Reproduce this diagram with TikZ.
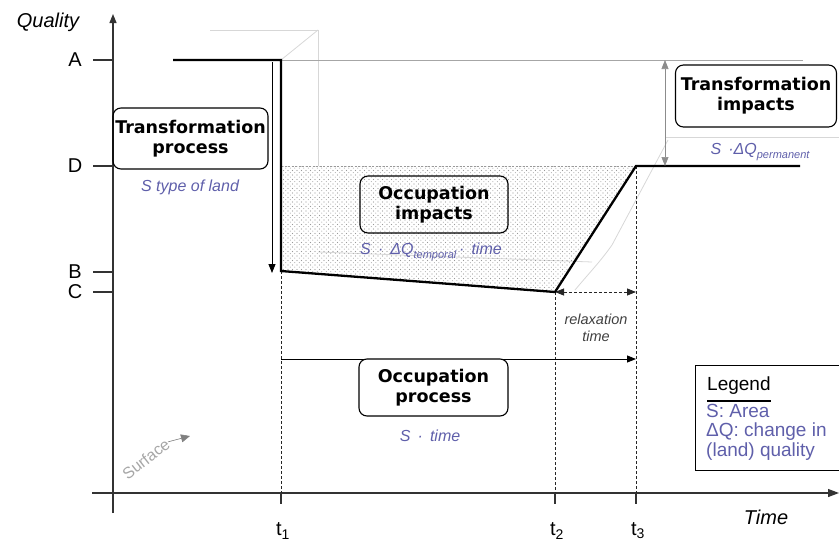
\documentclass[tikz,border=0pt]{standalone}
\usepackage{fontspec}
\setmainfont{Liberation Sans}
\newfontfamily\boxfont{DejaVu Sans}
\usetikzlibrary{arrows.meta,patterns}
\definecolor{labblue}{RGB}{95,95,170}
\definecolor{faint}{RGB}{215,215,215}
\pgfdeclarepatternformonly{bigdots}{\pgfqpoint{-1pt}{-1pt}}{\pgfqpoint{4pt}{4pt}}{\pgfqpoint{4.5pt}{4.5pt}}{%
  \pgfpathcircle{\pgfqpoint{0pt}{0pt}}{0.6pt}\pgfusepath{fill}%
  \pgfpathcircle{\pgfqpoint{2.25pt}{2.25pt}}{0.5pt}\pgfusepath{fill}}
\begin{document}
\begin{tikzpicture}[x=1pt,y=-1pt,
  procbox/.style={draw,line width=1.1pt,rounded corners=8pt,
    font=\boxfont\bfseries\fontsize{17.5}{20}\selectfont,align=center,inner sep=0pt},
  bluelab/.style={text=labblue,font=\itshape\fontsize{16}{18}\selectfont,inner sep=0pt},
  axlab/.style={font=\fontsize{20}{22}\selectfont,inner sep=0pt},
  axis/.style={line width=1.2pt,draw=black!80},
  tickline/.style={line width=1.1pt,draw=black!80},
  curve/.style={line width=2.3pt,line join=miter},
  guide/.style={dash pattern=on 3pt off 2pt,line width=0.8pt,draw=black!85},
  faintline/.style={draw=faint,line width=0.8pt},
  tip/.style={-{Triangle[length=9pt,width=7pt]}},
  tips/.style={{Triangle[length=9pt,width=7pt]}-{Triangle[length=9pt,width=7pt]}}
]
\useasboundingbox (0,0) rectangle (839,544);

% key coordinates
\coordinate (a0) at (173,60);
\coordinate (A1) at (281,60);
\coordinate (B1) at (281,271);
\coordinate (C2) at (555,292);
\coordinate (D3) at (636,166);
\coordinate (Dend) at (800,166);
\coordinate (Aend) at (803,60);
\coordinate (Dtop) at (281,166);
\coordinate (t1ax) at (281,493);
\coordinate (t2ax) at (555,493);
\coordinate (t3ax) at (636,493);
\coordinate (t1tk) at (281,504);
\coordinate (t2tk) at (555,504);
\coordinate (t3tk) at (636,504);
\coordinate (C3) at (636,292);
\coordinate (op1) at (281,359);
\coordinate (op3) at (636,359);
\coordinate (yb) at (113,513);
\coordinate (yt) at (113,14);
\coordinate (xl) at (92,493);
\coordinate (xr) at (839,493);

% faint perspective lines
\draw[faintline] (210,30) -- (318,30);
\draw[faintline] (A1) -- (318,30);
\draw[faintline] (318,30) -- (318,166);
\draw[faintline] (318,252) -- (592,262);
\draw[faintline] (575,290) .. controls (590,272) and (600,262) .. (612,245) -- (668,140);
\draw[faintline] (665,137) -- (839,137);
\draw[draw=black!35,line width=0.6pt] (A1) -- (Aend);

% dotted area
\fill[pattern=bigdots,pattern color=black!40] (Dtop) -- (B1) -- (C2) -- (D3) -- cycle;
\draw[draw=black!40,dash pattern=on 2pt off 1.5pt,line width=0.6pt] (Dtop) -- (D3);

% axes
\draw[axis,tip] (yb) -- (yt);
\draw[axis,-{Triangle[length=11pt,width=8pt]}] (xl) -- (xr);
\node[axlab,font=\itshape\fontsize{20}{22}\selectfont] (q) at (48,22) {Quality};
\node[axlab] (time) at (766,517) {\itshape Time};

% y ticks
\foreach \n/\yy in {A/60,D/166,B/272,C/292}{
  \draw[tickline] (93,\yy) -- (113,\yy);
  \node[axlab] (lab\n) at (75,\yy) {\n};
}
% x ticks
\draw[tickline] (t1ax) -- (t1tk);
\draw[tickline] (t2ax) -- (t2tk);
\draw[tickline] (t3ax) -- (t3tk);
\node[axlab] (t1) at (283,531) {t\textsubscript{1}};
\node[axlab] (t2) at (557,531) {t\textsubscript{2}};
\node[axlab] (t3) at (638,531) {t\textsubscript{3}};

% guides
\draw[guide] (B1) -- (t1ax);
\draw[guide] (C2) -- (t2ax);
\draw[guide] (D3) -- (t3ax);
\draw[guide,tips] (C2) -- (C3);
\node[font=\itshape\fontsize{14.5}{17}\selectfont,text=black!75,align=center,inner sep=0pt] (relax) at (596,328) {relaxation\\time};

% main curve
\draw[curve] (a0) -- (A1) -- (B1) -- (C2) -- (D3) -- (Dend);

% transformation arrow
\coordinate (ta1) at (272,62);
\coordinate (ta2) at (272,273);
\draw[line width=0.8pt,tip] (ta1) -- (ta2);

% permanent impact double arrow
\coordinate (pa1) at (665,60);
\coordinate (pa2) at (665,166);
\draw[line width=0.6pt,draw=black!45,tips] (pa1) -- (pa2);

% occupation process arrow
\draw[line width=0.9pt,tip] (op1) -- (op3);

% boxes
\node[procbox,minimum width=155pt,minimum height=61pt] (tp) at (190.5,138.5) {Transformation\\process};
\node[bluelab] (tpl) at (190,187) {S type of land};

\node[procbox,minimum width=148pt,minimum height=57pt] (oi) at (434,204.5) {Occupation\\impacts};
\node[bluelab] (oil) at (431,252) {S \,·\, ΔQ\raisebox{-4pt}{\fontsize{11}{11}\selectfont temporal}\,·\, time};

\node[procbox,minimum width=161pt,minimum height=62pt] (ti) at (756,96) {Transformation\\impacts};
\node[bluelab] (til) at (760,152) {S \,·ΔQ\raisebox{-4pt}{\fontsize{11}{11}\selectfont permanent}};

\node[procbox,fill=white,minimum width=149pt,minimum height=57pt] (opb) at (433.5,387.5) {Occupation\\process};
\node[bluelab] (opl) at (430,436) {S \,·\, time};

% surface
\node[rotate=38,text=black!35,font=\fontsize{16}{18}\selectfont,inner sep=0pt] (surf) at (146,459) {Surface};
\coordinate (sa) at (190,436);
\draw[line width=0.6pt,-{Triangle[length=9pt,width=8pt]},black!50] (surf.east) -- (sa);

% legend
\draw[line width=1pt] (695,365) rectangle (839,470);
\node[anchor=west,font=\fontsize{19}{21}\selectfont,inner sep=0pt] (leg) at (707,386) {Legend};
\draw[line width=1.2pt] (707,401) -- (771,401);
\node[anchor=north west,align=left,text=labblue,font=\fontsize{19}{19.5}\selectfont,inner sep=0pt] (legtxt) at (706,404) {S: Area\\ΔQ: change in\\(land) quality};
\end{tikzpicture}
\end{document}
